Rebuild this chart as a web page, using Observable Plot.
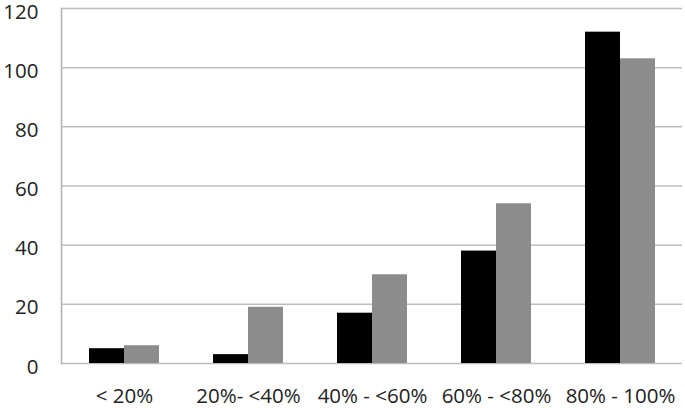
<!DOCTYPE html>
<html>
<head>
<meta charset="utf-8">
<script src="https://cdn.jsdelivr.net/npm/d3@7"></script>
<script src="https://cdn.jsdelivr.net/npm/@observablehq/plot@0.6"></script>
<style>
  html, body { margin: 0; padding: 0; background: #fff; }
  svg { display: block; overflow: visible; }
</style>
</head>
<body>
<div id="chart"></div>
<script>
const categories = ["< 20%", "20%- <40%", "40% - <60%", "60% - <80%", "80% - 100%"];
const seriesA = [5, 3, 17, 38, 112];
const seriesB = [6, 19, 30, 54, 103];
const yTicks = [0, 20, 40, 60, 80, 100, 120];

const dataA = categories.map((c, i) => ({category: c, value: seriesA[i]}));
const dataB = categories.map((c, i) => ({category: c, value: seriesB[i]}));

const chart = Plot.plot({
  width: 685,
  height: 408,
  marginLeft: 61,
  marginRight: 3,
  marginTop: 8,
  marginBottom: 45,
  style: {fontFamily: "'Open Sans', sans-serif", fontSize: "20.5px", color: "#222", background: "#fff"},
  x: {domain: categories, paddingInner: 0.4364, paddingOuter: 0.218, align: 0.5, label: null},
  y: {domain: [0, 120], label: null},
  marks: [
    Plot.ruleY(yTicks, {stroke: "#bdbdbd", strokeWidth: 1.5}),
    Plot.barY(dataA, {x: "category", y: "value", fill: "#000", insetLeft: 0, insetRight: 35}),
    Plot.barY(dataB, {x: "category", y: "value", fill: "#8c8c8c", insetLeft: 35, insetRight: 0}),
    Plot.frame({anchor: "left", stroke: "#b0b0b0", strokeWidth: 1.5}),
    Plot.axisY({ticks: yTicks, tickSize: 0, tickPadding: 23, dy: 3.5, label: null}),
    Plot.axisX({tickSize: 0, tickPadding: 25, label: null})
  ]
});
document.getElementById("chart").appendChild(chart);
</script>
</body>
</html>
